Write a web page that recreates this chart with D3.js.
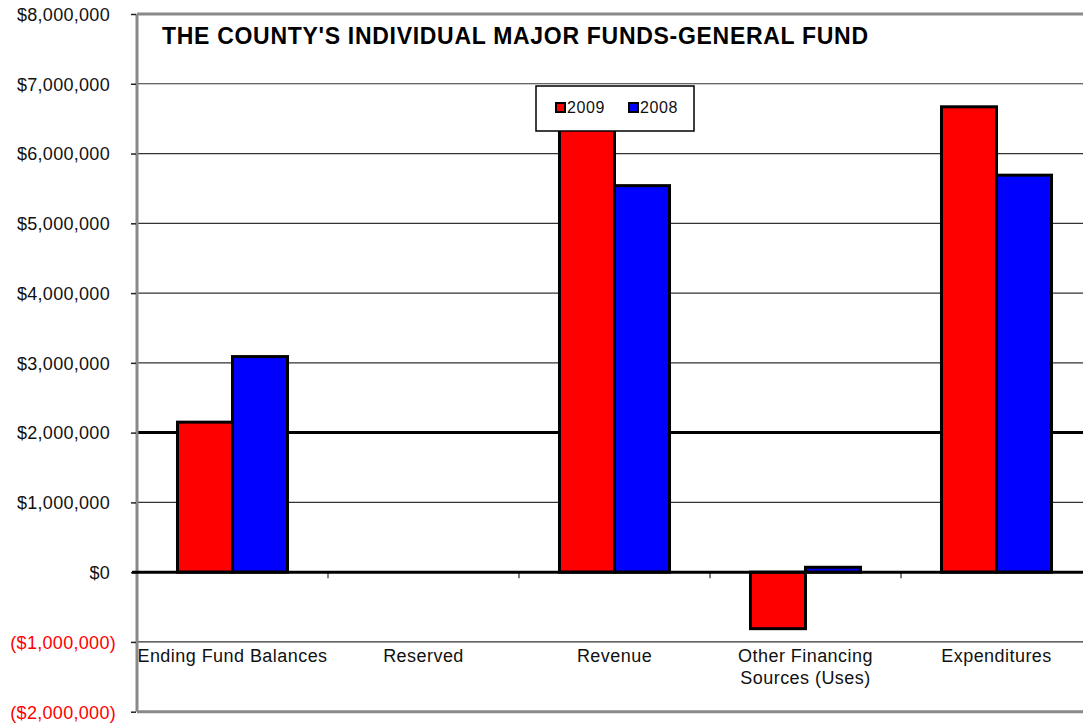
<!DOCTYPE html>
<html>
<head>
<meta charset="utf-8">
<script src="https://cdn.jsdelivr.net/npm/d3@7/dist/d3.min.js"></script>
<style>
  html, body { margin: 0; padding: 0; background: #fff; }
  svg { display: block; font-family: "Liberation Sans", Arial, sans-serif; }
</style>
</head>
<body>
<svg id="chart" width="1083" height="723"></svg>
<script>
// General fund figures by category, two fiscal years
const categories = ["Ending Fund Balances", "Reserved", "Revenue", "Other Financing|Sources (Uses)", "Expenditures"];
const seriesNames = ["2009", "2008"];
const values2009 = [2150000, 0, 6500000, -810000, 6670000];
const values2008 = [3090000, 0, 5540000, 70000, 5690000];
const yTicks = [-2000000, -1000000, 0, 1000000, 2000000, 3000000, 4000000, 5000000, 6000000, 7000000, 8000000];
const seriesColors = ["#ff0000", "#0000ff"];
const titleText = "THE COUNTY'S INDIVIDUAL MAJOR FUNDS-GENERAL FUND";

const svg = d3.select("#chart");
const plot = { left: 137, right: 1092, top: 14, bottom: 711.7 };

const y = d3.scaleLinear().domain([-2000000, 8000000]).range([plot.bottom, plot.top]);
const x0 = d3.scaleBand().domain(categories).range([plot.left, plot.right]).paddingInner(0).paddingOuter(0);
const groupW = x0.bandwidth() * 0.576;
const x1 = d3.scaleBand().domain(seriesNames).range([0, groupW]);

const fmt = v => {
  const s = "$" + d3.format(",")(Math.abs(v));
  return v < 0 ? "(" + s + ")" : s;
};

// horizontal gridlines
svg.append("g").selectAll("line")
  .data(yTicks.filter(t => t !== 0 && t !== 8000000 && t !== -2000000))
  .join("line")
  .attr("x1", plot.left).attr("x2", 1083)
  .attr("y1", d => y(d)).attr("y2", d => y(d))
  .attr("stroke", d => d === 2000000 ? "#000" : "#333")
  .attr("stroke-width", d => d === 2000000 ? 3 : 1.2);

// outer frame (left, top, bottom)
const frame = svg.append("g").attr("stroke", "#8a8a8a").attr("stroke-width", 3).attr("fill", "none");
frame.append("line").attr("x1", plot.left).attr("x2", plot.left).attr("y1", plot.top).attr("y2", plot.bottom);
frame.append("line").attr("x1", plot.left).attr("x2", 1083).attr("y1", plot.top).attr("y2", plot.top);
frame.append("line").attr("x1", plot.left).attr("x2", 1083).attr("y1", plot.bottom).attr("y2", plot.bottom);

// y axis
const yAxis = d3.axisLeft(y).tickValues(yTicks).tickSize(5).tickFormat(fmt);
const yg = svg.append("g").attr("transform", `translate(${plot.left - 1},0)`).call(yAxis);
yg.select(".domain").remove();
yg.selectAll(".tick line").attr("stroke", "#222").attr("stroke-width", 1.5);
yg.selectAll(".tick text")
  .attr("font-size", 18).attr("letter-spacing", 0.3)
  .attr("font-family", "Liberation Sans, Arial, sans-serif")
  .attr("fill", d => d < 0 ? "#ff0000" : "#111")
  .attr("x", d => d < 0 ? -20 : -26)
  .attr("dy", "0.35em");

// category ticks below the zero line
svg.append("g").selectAll("line")
  .data(categories.slice(1))
  .join("line")
  .attr("x1", d => x0(d)).attr("x2", d => x0(d))
  .attr("y1", y(0)).attr("y2", y(0) + 6)
  .attr("stroke", "#555").attr("stroke-width", 1.5);

// bars
const groups = svg.append("g").selectAll("g")
  .data(categories.map((c, i) => ({ c, vals: [values2009[i], values2008[i]] })))
  .join("g")
  .attr("transform", d => `translate(${x0(d.c) + (x0.bandwidth() - groupW) / 2},0)`);

groups.selectAll("rect")
  .data(d => d.vals.map((v, j) => ({ v, s: seriesNames[j], j })))
  .join("rect")
  .attr("x", d => x1(d.s))
  .attr("width", x1.bandwidth())
  .attr("y", d => y(Math.max(0, d.v)))
  .attr("height", d => Math.abs(y(d.v) - y(0)))
  .attr("fill", d => seriesColors[d.j])
  .attr("stroke", "#000").attr("stroke-width", 3);

// zero baseline
svg.append("line")
  .attr("x1", plot.left - 5).attr("x2", 1083)
  .attr("y1", y(0)).attr("y2", y(0))
  .attr("stroke", "#000").attr("stroke-width", 3);

// category labels
const cl = svg.append("g").selectAll("text")
  .data(categories)
  .join("text")
  .attr("x", d => x0(d) + x0.bandwidth() / 2)
  .attr("y", 662)
  .attr("text-anchor", "middle")
  .attr("font-size", 18).attr("letter-spacing", 0.45)
  .attr("fill", "#111");
cl.each(function (d) {
  const parts = d.split("|");
  d3.select(this).selectAll("tspan").data(parts).join("tspan")
    .attr("x", x0(d) + x0.bandwidth() / 2)
    .attr("dy", (p, i) => i === 0 ? 0 : 22)
    .text(p => p);
});

// title
svg.append("text")
  .attr("x", 162).attr("y", 43.5)
  .attr("font-size", 23).attr("font-weight", "bold")
  .attr("textLength", 706).attr("lengthAdjust", "spacing")
  .attr("fill", "#000")
  .text(titleText);

// legend
const lg = svg.append("g").attr("transform", "translate(536,86)");
lg.append("rect").attr("width", 158).attr("height", 45)
  .attr("fill", "#fff").attr("stroke", "#000").attr("stroke-width", 1.5);
const li = lg.selectAll("g.item").data(seriesNames).join("g")
  .attr("class", "item")
  .attr("transform", (d, i) => `translate(${20 + i * 73},17)`);
li.append("rect").attr("width", 9).attr("height", 9)
  .attr("fill", (d, i) => seriesColors[i]).attr("stroke", "#000").attr("stroke-width", 2);
li.append("text").attr("x", 11).attr("y", 10)
  .attr("font-size", 16).attr("letter-spacing", 0.6).attr("fill", "#111")
  .text(d => d);
</script>
</body>
</html>
